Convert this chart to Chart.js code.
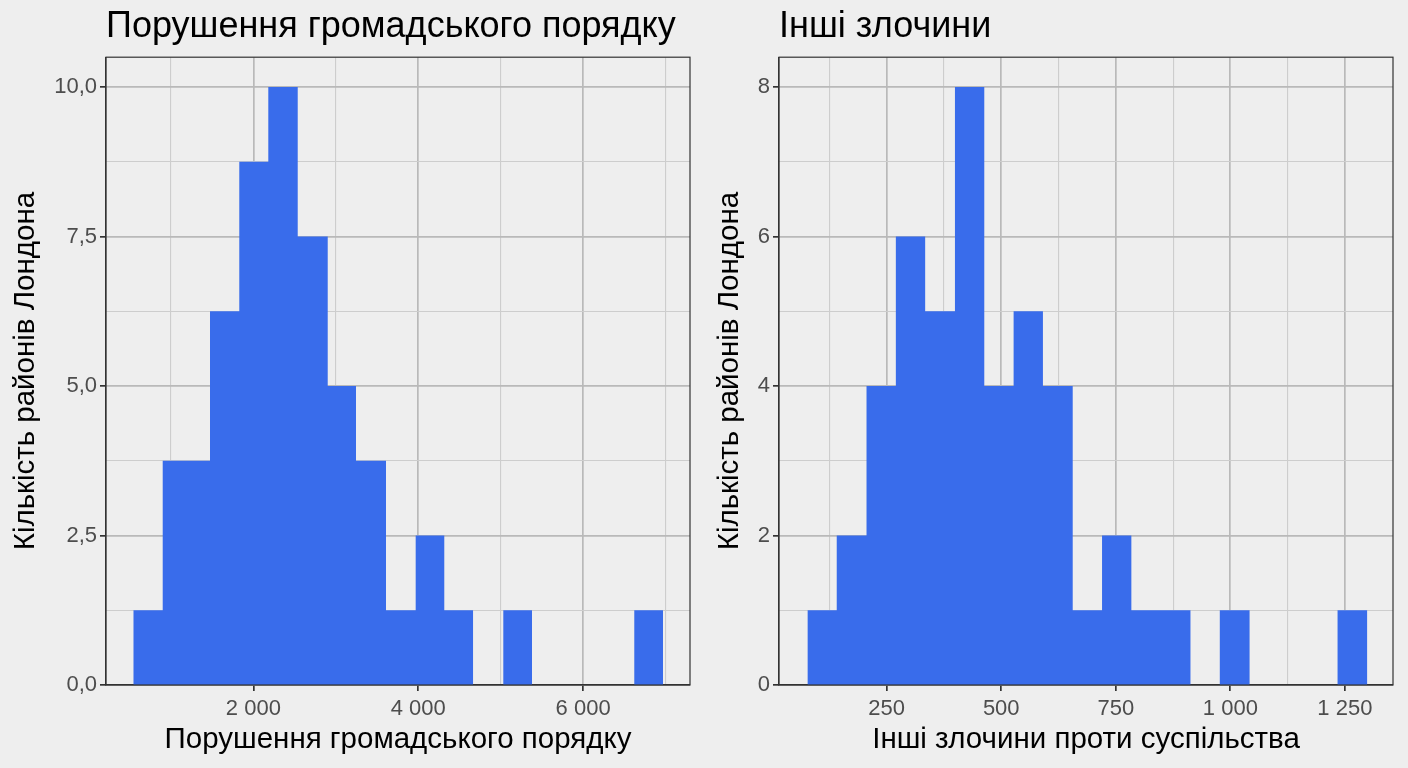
<!DOCTYPE html>
<html lang="uk">
<head>
<meta charset="utf-8">
<title>Злочини в районах Лондона</title>
<script src="https://cdn.jsdelivr.net/npm/chart.js@4.4.1/dist/chart.umd.min.js"></script>
<style>
  html, body { margin: 0; padding: 0; background: #eeeeee; }
  #wrap { position: relative; width: 1408px; height: 768px; }
  .panel { position: absolute; top: 0; width: 704px; height: 768px; }
  #leftPanel { left: 0; }
  #rightPanel { left: 704px; }
</style>
</head>
<body>
<div id="wrap">
  <div class="panel" id="leftPanel"><canvas id="publicOrderChart"></canvas></div>
  <div class="panel" id="rightPanel"><canvas id="otherCrimesChart"></canvas></div>
</div>
<script>
// Histogram bins: edges (n+1) and heights (n)
const publicOrderEdges = [543, 900, 1474, 1829, 2181, 2538, 2902, 3245, 3609, 3969, 4316, 4665, 5032, 5380, 6621, 6970];
const publicOrderCounts = [1.25, 3.75, 6.25, 8.75, 10, 7.5, 5, 3.75, 1.25, 2.5, 1.25, 0, 1.25, 0, 1.25];
const publicOrderXTicks = [2000, 4000, 6000];
const publicOrderYTicks = [0, 2.5, 5, 7.5, 10];

const otherCrimesEdges = [77, 141, 206, 270, 334, 399, 463, 527, 591, 656, 720, 784, 849, 913, 977, 1042, 1106, 1170, 1234, 1299];
const otherCrimesCounts = [1, 2, 4, 6, 5, 8, 4, 5, 4, 1, 2, 1, 1, 0, 1, 0, 0, 0, 1];
const otherCrimesXTicks = [250, 500, 750, 1000, 1250];
const otherCrimesYTicks = [0, 2, 4, 6, 8];

const FONT = "'Liberation Sans', Arial, sans-serif";
const BAR_COLOR = '#396ceb';
const FRAME_COLOR = '#333333';

// Function to format numbers the Ukrainian way: "2 000", "7,5"
function formatNumber(value, decimals) {
    const parts = value.toFixed(decimals).split('.');
    parts[0] = parts[0].replace(/\B(?=(\d{3})+(?!\d))/g, ' ');
    return parts.join(',');
}

function isListed(list, value) {
    return list.some(v => Math.abs(v - value) < 1e-9);
}

// Function to turn bin edges and counts into step points
function histogramPoints(edges, counts) {
    const points = counts.map((c, i) => ({ x: edges[i], y: c }));
    points.push({ x: edges[edges.length - 1], y: 0 });
    return points;
}

// Grid at every half step (major + minor lines), like the ggplot panel
function stepTicks(step) {
    return scale => {
        const ticks = [];
        for (let v = Math.ceil(scale.min / step) * step; v <= scale.max + 1e-9; v += step) {
            ticks.push({ value: v });
        }
        scale.ticks = ticks;
    };
}

// Draws the full panel frame over the bars
const panelFrame = {
    id: 'panelFrame',
    afterDatasetsDraw(chart) {
        const { ctx, chartArea: a } = chart;
        ctx.save();
        ctx.strokeStyle = FRAME_COLOR;
        ctx.lineWidth = 1.2;
        ctx.strokeRect(a.left, a.top, a.right - a.left, a.bottom - a.top);
        ctx.restore();
    }
};

function gridOptions(majorList) {
    return {
        color: c => isListed(majorList, c.tick.value) ? '#b9b9b9' : '#cdcdcd',
        lineWidth: c => isListed(majorList, c.tick.value) ? 1.7 : 1.1,
        tickLength: 6,
        tickWidth: 1.7,
        tickColor: c => isListed(majorList, c.tick.value) ? FRAME_COLOR : 'rgba(0,0,0,0)'
    };
}

// Function to build one histogram panel
function makeHistogram(canvasId, cfg) {
    const ctx = document.getElementById(canvasId);
    return new Chart(ctx, {
        type: 'line',
        data: {
            datasets: [{
                data: histogramPoints(cfg.edges, cfg.counts),
                stepped: true,
                fill: 'origin',
                backgroundColor: BAR_COLOR,
                borderWidth: 0,
                pointRadius: 0
            }]
        },
        plugins: [panelFrame],
        options: {
            responsive: true,
            maintainAspectRatio: false,
            animation: false,
            layout: { padding: { left: 0, right: cfg.rightPad, top: 0, bottom: 0 } },
            plugins: {
                legend: { display: false },
                tooltip: { enabled: false },
                title: {
                    display: true,
                    text: cfg.title,
                    align: 'start',
                    fullSize: false,
                    color: '#000000',
                    font: { family: FONT, size: 36, weight: 'normal' },
                    padding: { top: 5, bottom: 9 }
                }
            },
            scales: {
                x: {
                    type: 'linear',
                    min: cfg.xMin,
                    max: cfg.xMax,
                    afterBuildTicks: stepTicks(cfg.xStep),
                    border: { color: FRAME_COLOR, width: 1.2 },
                    grid: gridOptions(cfg.xTicks),
                    ticks: {
                        autoSkip: false,
                        maxRotation: 0,
                        padding: 5,
                        color: '#4d4d4d',
                        font: { family: FONT, size: 22 },
                        callback: v => isListed(cfg.xTicks, v) ? formatNumber(v, 0) : ''
                    },
                    title: {
                        display: true,
                        text: cfg.xTitle,
                        color: '#000000',
                        font: { family: FONT, size: 29.5 },
                        padding: { top: 0, bottom: 10 }
                    },
                    afterFit: s => { s.height = 83; }
                },
                y: {
                    min: 0,
                    max: cfg.yMax,
                    afterBuildTicks: stepTicks(cfg.yStep),
                    border: { color: FRAME_COLOR, width: 1.2 },
                    grid: gridOptions(cfg.yTicks),
                    ticks: {
                        autoSkip: false,
                        padding: 3,
                        color: '#4d4d4d',
                        font: { family: FONT, size: 22 },
                        callback: v => isListed(cfg.yTicks, v) ? formatNumber(v, cfg.yDecimals) : ''
                    },
                    title: {
                        display: true,
                        text: 'Кількість районів Лондона',
                        color: '#000000',
                        font: { family: FONT, size: 29.5 },
                        padding: { top: 8, bottom: 0 }
                    },
                    afterFit: s => { s.width = cfg.yAxisWidth; }
                }
            }
        }
    });
}

makeHistogram('publicOrderChart', {
    title: 'Порушення громадського порядку',
    xTitle: 'Порушення громадського порядку',
    edges: publicOrderEdges,
    counts: publicOrderCounts,
    xTicks: publicOrderXTicks,
    yTicks: publicOrderYTicks,
    xMin: 212, xMax: 7297, xStep: 1000,
    yMax: 10.5, yStep: 1.25, yDecimals: 1,
    yAxisWidth: 106, rightPad: 14
});

makeHistogram('otherCrimesChart', {
    title: 'Інші злочини',
    xTitle: 'Інші злочини проти суспільства',
    edges: otherCrimesEdges,
    counts: otherCrimesCounts,
    xTicks: otherCrimesXTicks,
    yTicks: otherCrimesYTicks,
    xMin: 15, xMax: 1355, xStep: 125,
    yMax: 8.4, yStep: 1, yDecimals: 0,
    yAxisWidth: 75, rightPad: 15
});
</script>
</body>
</html>
